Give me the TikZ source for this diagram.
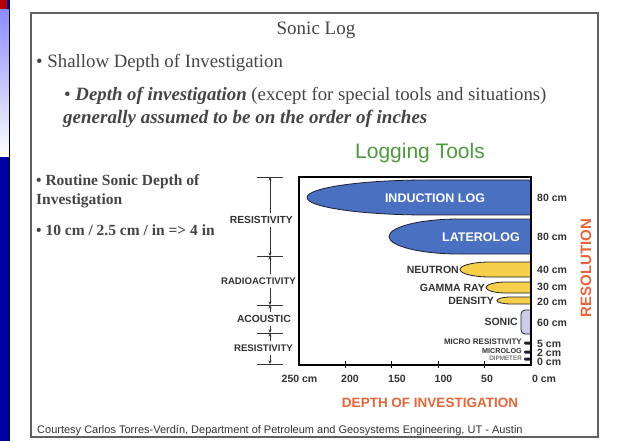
\documentclass[tikz,border=0pt]{standalone}
\usepackage{fontspec}
\setmainfont{Liberation Serif}
\setsansfont{Liberation Sans}
\usetikzlibrary{arrows.meta}
\definecolor{slidegray}{HTML}{454545}
\definecolor{tooltext}{HTML}{333333}
\definecolor{tooldark}{HTML}{1E2030}
\definecolor{toolblue}{HTML}{4A70C2}
\definecolor{toolyellow}{HTML}{F5CF4A}
\definecolor{sonicfill}{HTML}{CCCCEA}
\definecolor{resorange}{HTML}{E8653A}
\definecolor{titlegreen}{HTML}{4E9A3E}
\tikzset{
  slidetext/.style={anchor=west, inner sep=0pt, text=slidegray},
  toollabel/.style={font=\sffamily\bfseries\fontsize{10.5}{11}\selectfont, text=tooltext, inner sep=0pt},
  barlabel/.style={font=\sffamily\bfseries\fontsize{12.5}{13}\selectfont, text=white, inner sep=0pt},
  methodlabel/.style={font=\sffamily\bfseries\fontsize{10.3}{11}\selectfont, text=tooltext, anchor=east, inner sep=3pt},
  cmlabel/.style={toollabel, anchor=west},
  brkarrow/.style={-{Stealth[length=3.5pt,width=3pt]}, tooltext, line width=0.6pt},
  brkbar/.style={tooltext, line width=0.8pt}
}
\begin{document}
\begin{tikzpicture}[x=1pt,y=-1pt]
    \useasboundingbox (0,0) rectangle (635,441);
    \fill[white] (0,0) rectangle (635,441);
    \fill[blue!65!black] (0,0) rectangle (9,441);
    \shade[top color=blue!45, bottom color=white] (0,10) rectangle (9,157);
    \fill[red!70!black] (0,0) rectangle (7,9);
    \draw[black, line width=1pt] (9.5,0) -- (9.5,441);
    \draw[gray!75!black, line width=1.5pt] (31,13) rectangle (598,437);

    \node[text=slidegray, font=\fontsize{19}{21}\selectfont] (title) at (316,30) {Sonic Log};
    \node[slidetext, font=\fontsize{18.8}{20}\selectfont] (shallow) at (36,63) {\textbullet\ Shallow Depth of Investigation};
    \node[slidetext, font=\fontsize{18.8}{20}\selectfont] (depth) at (64,96) {\textbullet\ \textbf{\textit{Depth of investigation}} (except for special tools and situations)};
    \node[slidetext, font=\fontsize{19}{20}\selectfont] (inches) at (63,119) {\textbf{\textit{generally assumed to be on the order of inches}}};

    \node[slidetext, font=\bfseries\fontsize{15.5}{17}\selectfont] (routine) at (36,182) {\textbullet\ Routine Sonic Depth of};
    \node[slidetext, font=\bfseries\fontsize{15.5}{17}\selectfont] (routineb) at (36,201) {Investigation};
    \node[slidetext, font=\bfseries\fontsize{15.5}{17}\selectfont] (ratio) at (36,230) {\textbullet\ 10 cm / 2.5 cm / in => 4 in};

    \node[font=\sffamily\fontsize{21}{24}\selectfont, text=titlegreen] (logging) at (420,153) {Logging Tools};

    \filldraw[fill=toolblue, draw=tooldark, line width=0.8pt] (531,180) -- (427,180) arc[start angle=270, end angle=90, x radius=120, y radius=17.5] -- (531,215) -- cycle;
    \filldraw[fill=toolblue, draw=tooldark, line width=0.8pt] (531,219) -- (459,219) arc[start angle=270, end angle=90, x radius=70, y radius=17.5] -- (531,254) -- cycle;
    \filldraw[fill=toolyellow, draw=tooldark, line width=0.8pt] (531,262) -- (490,262) arc[start angle=270, end angle=90, x radius=30, y radius=7.5] -- (531,277) -- cycle;
    \filldraw[fill=toolyellow, draw=tooldark, line width=0.8pt] (531,282) -- (506,282) arc[start angle=270, end angle=90, x radius=20, y radius=5.5] -- (531,293) -- cycle;
    \filldraw[fill=toolyellow, draw=tooldark, line width=0.8pt] (531,297) -- (511,297) arc[start angle=270, end angle=90, x radius=14, y radius=3.5] -- (531,304) -- cycle;
    \filldraw[fill=sonicfill, draw=tooldark, line width=0.8pt, rounded corners=4pt] (531,310) -- (521,310) -- (521,334) -- (531,334);
    \fill[tooldark, rounded corners=1pt] (524,341.5) rectangle (531,344.5);
    \fill[tooldark, rounded corners=1pt] (524,350.5) rectangle (531,353.5);
    \fill[tooldark, rounded corners=1pt] (524,357.5) rectangle (531,360.5);

    \draw[black, line width=1.2pt] (299,177) rectangle (531,365);
    \draw[black, line width=0.8pt] (345.4,361) -- (345.4,368) (391.8,361) -- (391.8,368) (438.2,361) -- (438.2,368) (484.6,361) -- (484.6,368);

    \node[barlabel] (induction) at (435,198) {INDUCTION LOG};
    \node[barlabel] (laterolog) at (481,237) {LATEROLOG};
    \node[toollabel, anchor=east] (neutron) at (459,269.5) {NEUTRON};
    \node[toollabel, anchor=east] (gamma) at (485,287.5) {GAMMA RAY};
    \node[toollabel, anchor=east] (density) at (494,300.5) {DENSITY};
    \node[toollabel, anchor=east] (sonic) at (518,322) {SONIC};
    \node[toollabel, anchor=east, font=\sffamily\bfseries\fontsize{8}{8}\selectfont] (microres) at (522,342) {MICRO RESISTIVITY};
    \node[toollabel, anchor=east, font=\sffamily\bfseries\fontsize{7.2}{7}\selectfont] (microlog) at (522,351.5) {MICROLOG};
    \node[toollabel, anchor=east, font=\sffamily\fontsize{6.3}{6}\selectfont] (dipmeter) at (522,358.5) {DIPMETER};

    \node[cmlabel] (res1) at (537,198) {80 cm};
    \node[cmlabel] (res2) at (537,237) {80 cm};
    \node[cmlabel] (res3) at (537,270) {40 cm};
    \node[cmlabel] (res4) at (537,287) {30 cm};
    \node[cmlabel] (res5) at (537,302) {20 cm};
    \node[cmlabel] (res6) at (537,323) {60 cm};
    \node[cmlabel] (res7) at (537,343.5) {5 cm};
    \node[cmlabel] (res8) at (537,352.5) {2 cm};
    \node[cmlabel] (res9) at (537,362) {0 cm};
    \node[rotate=90, font=\sffamily\bfseries\fontsize{15}{16}\selectfont, text=resorange] (resolution) at (586,268) {RESOLUTION};

    \node[toollabel] (d250) at (299.5,379) {250 cm};
    \node[toollabel] (d200) at (350,379) {200};
    \node[toollabel] (d150) at (397,379) {150};
    \node[toollabel] (d100) at (443.5,379) {100};
    \node[toollabel] (d50) at (487,379) {50};
    \node[toollabel] (d0) at (544,379) {0 cm};
    \node[font=\sffamily\bfseries\fontsize{13.5}{15}\selectfont, text=resorange] (doi) at (430,403) {DEPTH OF INVESTIGATION};

    \coordinate (b1) at (270,177);
    \coordinate (b2) at (270,256);
    \coordinate (b3) at (270,305);
    \coordinate (b4) at (270,333);
    \coordinate (b5) at (270,364);
    \foreach \b in {b1,b2,b3,b4,b5}
      \draw[brkbar] ([xshift=-13pt]\b) -- ([xshift=13pt]\b);
    \node[methodlabel] (resist) at (296,220) {RESISTIVITY};
    \node[methodlabel, font=\sffamily\bfseries\fontsize{9.6}{10}\selectfont] (radio) at (299,281) {RADIOACTIVITY};
    \node[methodlabel] (acoustic) at (294,319) {ACOUSTIC};
    \node[methodlabel, font=\sffamily\bfseries\fontsize{9.6}{10}\selectfont] (resistb) at (296,348) {RESISTIVITY};
    \draw[brkarrow] (b1 |- resist.north) -- (b1);
    \draw[brkarrow] (b2 |- resist.south) -- (b2);
    \draw[brkarrow] (b2 |- radio.north) -- (b2);
    \draw[brkarrow] (b3 |- radio.south) -- (b3);
    \draw[brkarrow] (b3 |- acoustic.north) -- (b3);
    \draw[brkarrow] (b4 |- acoustic.south) -- (b4);
    \draw[brkarrow] (b4 |- resistb.north) -- (b4);
    \draw[brkarrow] (b5 |- resistb.south) -- (b5);

    \node[anchor=west, inner sep=0pt, font=\sffamily\fontsize{11}{12}\selectfont, text=tooltext] (courtesy) at (37,431) {Courtesy Carlos Torres-Verdín, Department of Petroleum and Geosystems Engineering, UT - Austin};
\end{tikzpicture}
\end{document}
